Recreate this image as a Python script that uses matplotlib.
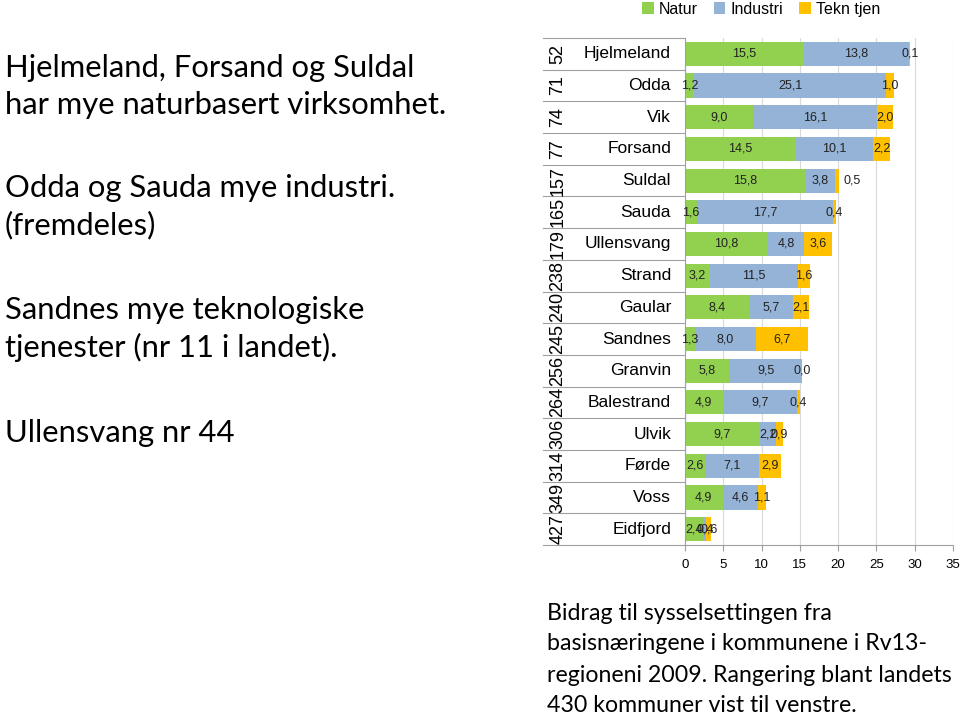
import matplotlib
matplotlib.use('Agg')
import matplotlib.pyplot as plt
import numpy as np

# data
kommuner = ['Hjelmeland', 'Odda', 'Vik', 'Forsand', 'Suldal', 'Sauda', 'Ullensvang',
            'Strand', 'Gaular', 'Sandnes', 'Granvin', 'Balestrand', 'Ulvik', 'Førde',
            'Voss', 'Eidfjord']
rang = [52, 71, 74, 77, 157, 165, 179, 238, 240, 245, 256, 264, 306, 314, 349, 427]
natur = [15.5, 1.2, 9.0, 14.5, 15.8, 1.6, 10.8, 3.2, 8.4, 1.3, 5.8, 4.9, 9.7, 2.6, 4.9, 2.4]
industri = [13.8, 25.1, 16.1, 10.1, 3.8, 17.7, 4.8, 11.5, 5.7, 8.0, 9.5, 9.7, 2.2, 7.1, 4.6, 0.4]
tekn = [0.1, 1.0, 2.0, 2.2, 0.5, 0.4, 3.6, 1.6, 2.1, 6.7, 0.0, 0.4, 0.9, 2.9, 1.1, 0.6]
serier = ['Natur', 'Industri', 'Tekn tjen']
farger = ['#92D050', '#95B3D7', '#FFC000']
xticks = [0, 5, 10, 15, 20, 25, 30, 35]

fig = plt.figure(figsize=(9.6, 7.15), dpi=100)
ax = fig.add_axes([685/960, 1-545/715, 268/960, 507/715])

y = np.arange(len(kommuner))
left = np.zeros(len(kommuner))
forrige = np.zeros(len(kommuner))
for verdier, navn, farge in zip([natur, industri, tekn], serier, farger):
    verdier = np.array(verdier)
    ax.barh(y, verdier, left=left, height=0.76, color=farge, label=navn, zorder=2)
    for i, v in enumerate(verdier):
        xpos = left[i] + v/2
        # Suldal: the tiny label was pushed to the right of the bar in the original
        if navn == 'Tekn tjen' and 0 < v <= 0.5 and 1 < forrige[i] < 5:
            xpos = left[i] + v + 1.7
        ax.text(xpos, y[i], f'{v:.1f}'.replace('.', ','), ha='center', va='center',
                fontsize=9, family='Liberation Sans', color='#222222', zorder=3)
    left += verdier
    forrige = verdier

ax.set_xlim(0, 35)
ax.set_ylim(len(kommuner) - 0.5, -0.5)
ax.set_xticks(xticks)
ax.set_xticklabels([str(t) for t in xticks], family='Liberation Sans', fontsize=9.5)
ax.grid(axis='x', color='#D9D9D9', lw=0.8, zorder=0)
for s in ['top', 'right']:
    ax.spines[s].set_visible(False)
ax.spines['left'].set_color('#A0A0A0')
ax.spines['bottom'].set_color('#A0A0A0')
ax.tick_params(axis='x', length=4, color='#A0A0A0', pad=6)
ax.set_yticks([])

# category labels as a little table to the left
trans = ax.get_yaxis_transform()
for i, (navn, r) in enumerate(zip(kommuner, rang)):
    ax.text(-0.052, i, navn, transform=trans, ha='right', va='center',
            fontsize=12.5, family='Liberation Sans', clip_on=False)
    ax.text(-0.475, i, str(r), transform=trans, ha='center', va='center', rotation=90,
            fontsize=13, family='Liberation Sans', clip_on=False)
for b in np.arange(-0.5, len(kommuner), 1.0):
    ax.plot([-0.53, 0], [b, b], transform=trans, color='#A0A0A0', lw=0.8, clip_on=False)

fig.legend(loc='upper left', bbox_to_anchor=(628/960, 1.018), ncol=3, frameon=False,
           handlelength=0.7, handleheight=0.7, handletextpad=0.35, columnspacing=1.0,
           prop={'family': 'Liberation Sans', 'size': 11.5})

# text on the left side
venstre = [
    (68, 'Hjelmeland, Forsand og Suldal'),
    (105, 'har mye naturbasert virksomhet.'),
    (188, 'Odda og Sauda mye industri.'),
    (225, '(fremdeles)'),
    (310, 'Sandnes mye teknologiske'),
    (347, 'tjenester (nr 11 i landet).'),
    (433, 'Ullensvang nr 44'),
]
for py, tekst in venstre:
    fig.text(5/960, 1 - py/715, tekst, ha='left', va='center', fontsize=22.3, family='Lato')

nede = [
    (613, 'Bidrag til sysselsettingen fra'),
    (644, 'basisnæringene i kommunene i Rv13-'),
    (675, 'regioneni 2009. Rangering blant landets'),
    (705, '430 kommuner vist til venstre.'),
]
for py, tekst in nede:
    fig.text(547/960, 1 - py/715, tekst, ha='left', va='center', fontsize=16.7, family='Lato')

fig.savefig('out.png', dpi=100)
